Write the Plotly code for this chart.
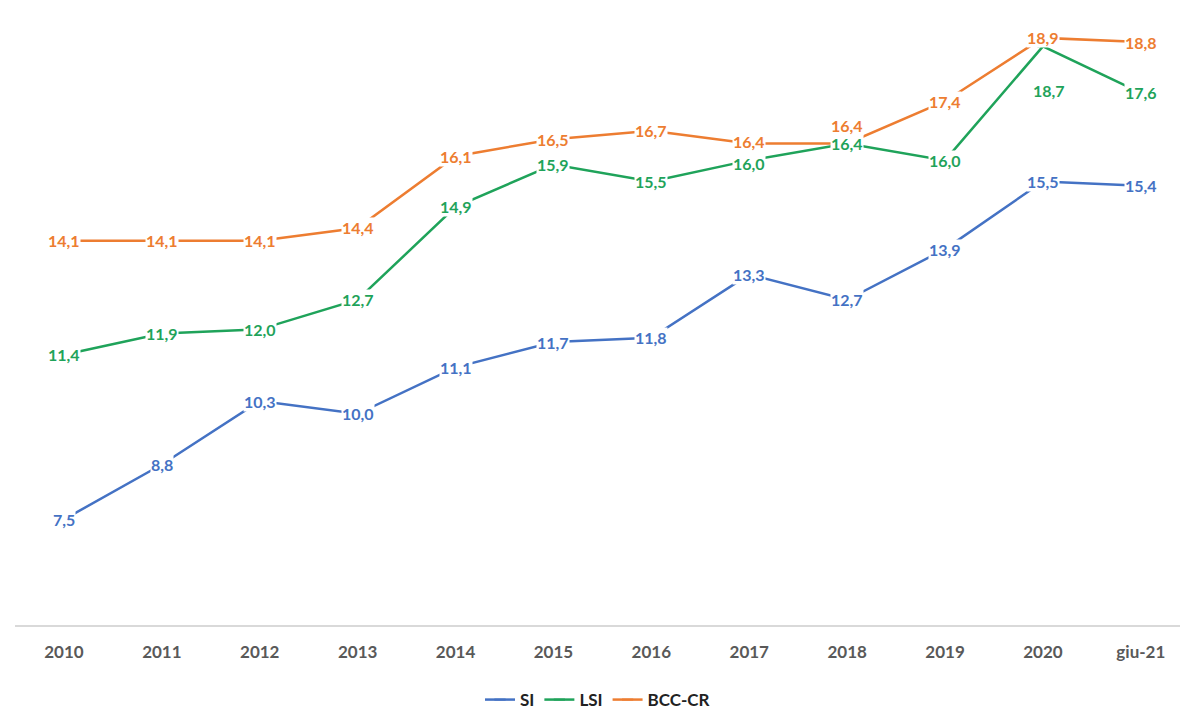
import plotly.graph_objects as go

categories = ["2010", "2011", "2012", "2013", "2014", "2015", "2016", "2017", "2018", "2019", "2020", "giu-21"]
si = [7.5, 8.8, 10.3, 10.0, 11.1, 11.7, 11.8, 13.3, 12.7, 13.9, 15.5, 15.4]
lsi = [11.4, 11.9, 12.0, 12.7, 14.9, 15.9, 15.5, 16.0, 16.4, 16.0, 18.7, 17.6]
bcc = [14.1, 14.1, 14.1, 14.4, 16.1, 16.5, 16.7, 16.4, 16.4, 17.4, 18.9, 18.8]

series = [
    ("SI", si, "#4472C4"),
    ("LSI", lsi, "#1FA35A"),
    ("BCC-CR", bcc, "#ED7D31"),
]

# label offsets (pixels) for a few crowded points
offsets = {("LSI", 10): (6, -44), ("BCC-CR", 8): (0, 18),
           ("LSI", 7): (0, -3), ("BCC-CR", 7): (0, 2)}

fig = go.Figure()
annotations = []
for name, vals, col in series:
    fig.add_trace(go.Scatter(
        x=categories, y=vals, name=name, mode="lines+markers",
        line=dict(color=col, width=2.5),
        marker=dict(symbol="line-ew", size=8, line=dict(color=col, width=2)),
    ))
for name, vals, col in series:
    for i, v in enumerate(vals):
        dx, dy = offsets.get((name, i), (0, 0))
        annotations.append(dict(
            x=i, y=v, xref="x", yref="y", text=f"{v:.1f}".replace(".", ","),
            showarrow=False, xshift=dx, yshift=dy,
            font=dict(family="Lato", size=16, color=col, weight="bold"),
            bgcolor="white", borderpad=0,
        ))

fig.update_layout(
    width=1180, height=710,
    margin=dict(l=15, r=0, t=10, b=85, autoexpand=False),
    plot_bgcolor="white", paper_bgcolor="white",
    showlegend=True,
    legend=dict(orientation="h", x=0.5, xanchor="center", y=-0.122, yanchor="middle",
                font=dict(family="Lato", size=17, color="#222222", weight="bold"),
                itemwidth=30, tracegroupgap=0),
    annotations=annotations,
    xaxis=dict(type="category", range=[-0.5, 11.4], showgrid=False, showline=True,
               linecolor="#D9D9D9", linewidth=1.5, ticks="outside", ticklen=11,
               tickcolor="rgba(0,0,0,0)", zeroline=False, automargin=False,
               tickfont=dict(family="Lato", size=17, color="#595959", weight="bold")),
    yaxis=dict(range=[5, 19.56], visible=False, showgrid=False, zeroline=False, automargin=False),
)

fig.write_html("out.html")
